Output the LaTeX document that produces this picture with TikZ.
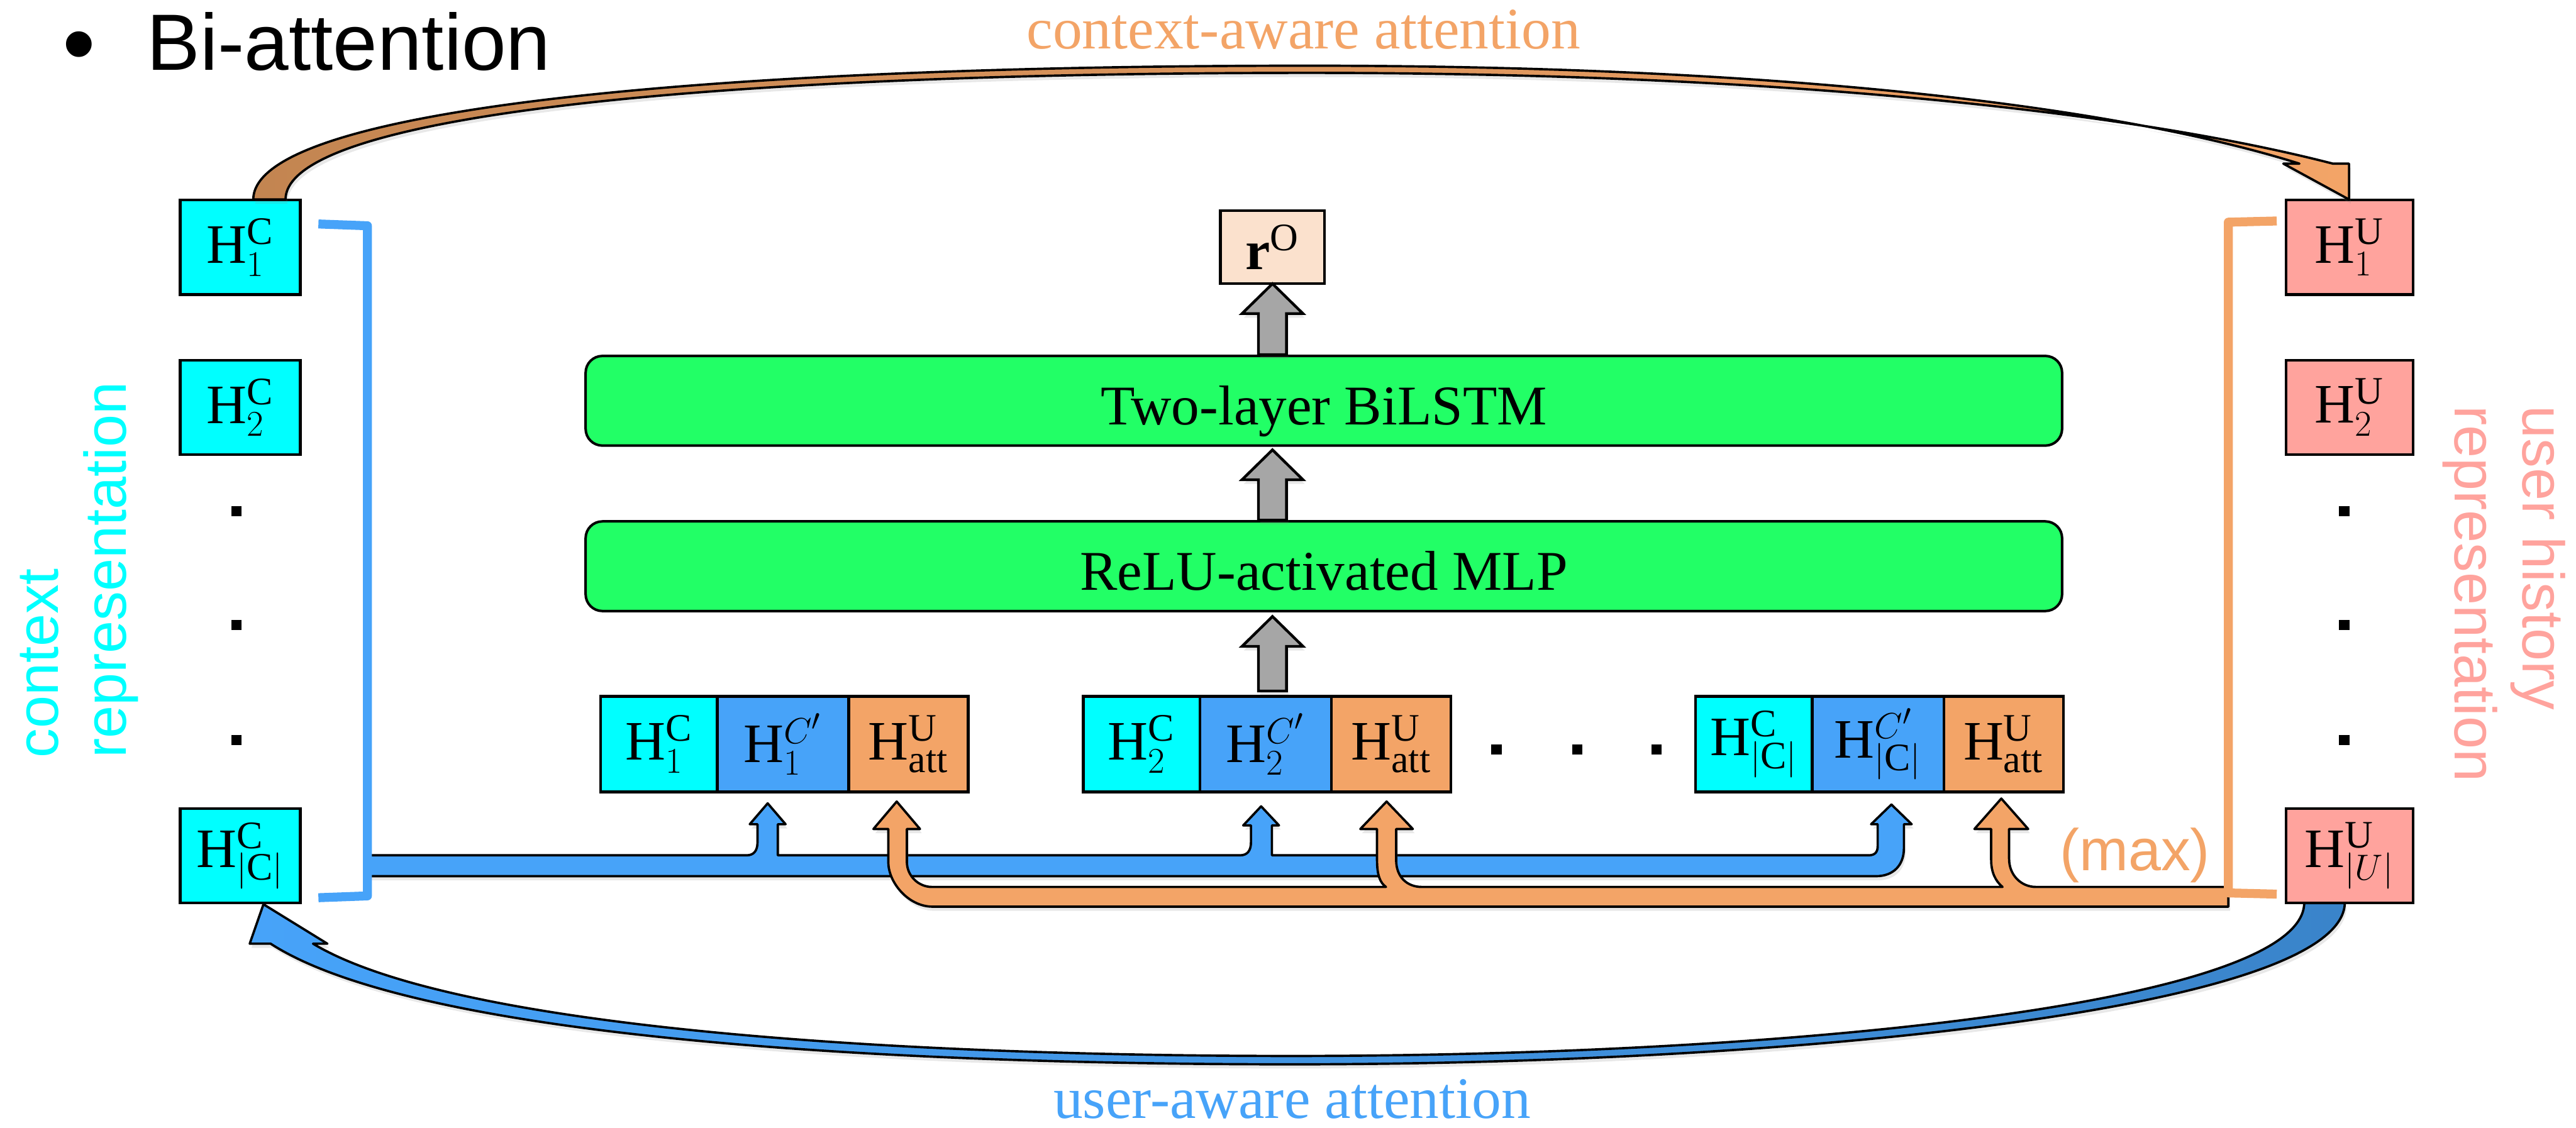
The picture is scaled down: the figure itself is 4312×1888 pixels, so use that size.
\documentclass[tikz,border=0pt]{standalone}
\usepackage{fontspec}
\setmainfont{Liberation Serif}
\newfontfamily\sansfont{Liberation Sans}
\usetikzlibrary{positioning,calc,shadows}

\definecolor{ctxcyan}{HTML}{00FFFF}
\definecolor{attblue}{HTML}{47A3F9}
\definecolor{attbluedk}{HTML}{3A84CA}
\definecolor{attorange}{HTML}{F3A467}
\definecolor{attbrown}{HTML}{C38551}
\definecolor{usrpink}{HTML}{FFA39D}
\definecolor{lyrgreen}{HTML}{22FF66}
\definecolor{outpeach}{HTML}{FBE1CD}
\definecolor{arrgray}{HTML}{A6A6A6}

\tikzset{
  hcell/.style={draw, line width=1.3pt, inner sep=0pt, outer sep=0pt, font=\fontsize{26.5}{30}\selectfont},
  ctx/.style={hcell, fill=ctxcyan, minimum width=2.01cm, minimum height=1.58cm},
  usr/.style={hcell, fill=usrpink, minimum width=2.12cm, minimum height=1.58cm},
  catcell/.style={hcell, minimum height=1.6cm},
  catc/.style={catcell, fill=ctxcyan, minimum width=1.95cm},
  catb/.style={catcell, fill=attblue, minimum width=2.2cm},
  cato/.style={catcell, fill=attorange, minimum width=2cm},
  lyrbox/.style={draw, line width=1.2pt, rounded corners=0.28cm, fill=lyrgreen,
    minimum width=24.7cm, minimum height=1.5cm, text height=23pt, text depth=0pt,
    font=\fontsize{26.7}{30}\selectfont},
  dotsq/.style={fill=black, inner sep=0pt, minimum size=0.17cm},
  softshadow/.style={drop shadow={opacity=0.18, shadow xshift=0.03cm, shadow yshift=-0.07cm}},
  ribbon/.style={draw=black, line width=1.1pt, line join=round, softshadow},
  fatarrow/.style={draw=black, line width=1.3pt, fill=arrgray, line join=miter, softshadow},
  brkt/.style={line width=0.15cm, line join=round},
  sidelabel/.style={inner sep=0pt, align=left, font=\sansfont\fontsize{28}{32.4}\selectfont},
}

% block arrow pointing up, from foot to tip
\newcommand{\fatup}[2]{%
  \draw[fatarrow] let \p1=(#1), \p2=(#2) in
    (\x2-0.235cm,\y1) -- (\x2-0.235cm,\y2-0.5cm) -- (\x2-0.51cm,\y2-0.5cm) -- (\x2,\y2)
    -- (\x2+0.51cm,\y2-0.5cm) -- (\x2+0.235cm,\y2-0.5cm) -- (\x2+0.235cm,\y1) -- cycle;}

\begin{document}
\begin{tikzpicture}[x=0.01cm, y=-0.01cm]
\useasboundingbox (0,0) rectangle (4312,1888);

% title
\node[font=\sansfont\fontsize{45}{48}\selectfont, anchor=base, inner sep=0pt] (bullet) at (132,127) {•};
\node[font=\sansfont\fontsize{38}{40}\selectfont, anchor=base west, inner sep=0pt] (title) at (245,117) {Bi-attention};

% context column
\node[ctx] (c1) at (402,414) {$\mathrm{H}^{\mathrm{C}}_{1}$};
\node[ctx] (c2) at (402,682) {$\mathrm{H}^{\mathrm{C}}_{2}$};
\node[ctx] (cn) at (402,1433) {$\mathrm{H}^{\mathrm{C}}_{|\mathrm{C}|}$};
\foreach \y in {856,1046,1239}
  \node[dotsq] at (396,\y) {};

% user history column
\node[usr] (u1) at (3933,414) {$\mathrm{H}^{\mathrm{U}}_{1}$};
\node[usr] (u2) at (3933,682) {$\mathrm{H}^{\mathrm{U}}_{2}$};
\node[usr] (un) at (3933,1433) {$\mathrm{H}^{\mathrm{U}}_{|U|}$};
\foreach \y in {856,1046,1239}
  \node[dotsq] at (3924,\y) {};

\node[sidelabel, text=ctxcyan, rotate=90, anchor=north west] (ctxlab) at (33,1270) {context\\representation};
\node[sidelabel, text=usrpink, rotate=-90, anchor=north west] (usrlab) at (4295,679) {user history\\representation};

% middle stack
\node[hcell, fill=outpeach, minimum width=1.74cm, minimum height=1.22cm] (rO) at (2130,414) {$\mathbf{r}^{\mathrm{O}}$};
\node[lyrbox] (lstm) at (2216,671) {Two-layer BiLSTM};
\node[lyrbox] (mlp) at (2216,948) {ReLU-activated MLP};

% concatenated rows
\node[catc] (hc1) at (1103,1246) {$\mathrm{H}^{\mathrm{C}}_{1}$};
\node[catb, right=0pt of hc1] (hcp1) {$\mathrm{H}^{C'}_{1}$};
\node[cato, right=0pt of hcp1] (ha1) {$\mathrm{H}^{\mathrm{U}}_{\mathrm{att}}$};

\node[catc] (hc2) at (1911,1246) {$\mathrm{H}^{\mathrm{C}}_{2}$};
\node[catb, right=0pt of hc2] (hcp2) {$\mathrm{H}^{C'}_{2}$};
\node[cato, right=0pt of hcp2] (ha2) {$\mathrm{H}^{\mathrm{U}}_{\mathrm{att}}$};

\node[catc] (hcn) at (2936,1246) {$\mathrm{H}^{\mathrm{C}}_{|\mathrm{C}|}$};
\node[catb, right=0pt of hcn] (hcpn) {$\mathrm{H}^{C'}_{|\mathrm{C}|}$};
\node[cato, right=0pt of hcpn] (han) {$\mathrm{H}^{\mathrm{U}}_{\mathrm{att}}$};

\foreach \x in {2505,2640,2773}
  \node[dotsq] at (\x,1255) {};

% gray arrows
\fatup{rO |- lstm.north}{rO.south}
\fatup{rO |- mlp.north}{$(rO |- lstm.south)+(0,5)$}
\fatup{$(rO |- hc2.north)+(0,-9)$}{$(rO |- mlp.south)+(0,7)$}

% context-aware attention
\filldraw[ribbon, left color=attbrown, right color=attorange]
  (424,334) .. controls (424,180) and (1200,110) .. (2190,110)
  .. controls (3000,110) and (3550,180) .. (3849,274)
  -- (3822,274) -- (3932,334) -- (3932,274) -- (3905,274)
  .. controls (3580,190) and (3000,122) .. (2190,122)
  .. controls (1210,122) and (478,190) .. (478,334) -- cycle;
\node[font=\fontsize{28}{30}\selectfont, text=attorange, anchor=base, inner sep=0pt] (ctxatt) at (2182,82) {context-aware attention};

% user-aware attention
\filldraw[ribbon, left color=attblue, right color=attbluedk]
  (3925,1512) .. controls (3920,1690) and (3000,1782) .. (2163,1782)
  .. controls (1500,1782) and (700,1740) .. (453,1580)
  -- (418,1580) -- (441,1514) -- (548,1580) -- (524,1580)
  .. controls (760,1722) and (1500,1768) .. (2163,1768)
  .. controls (3000,1768) and (3855,1680) .. (3857,1512) -- cycle;
\node[font=\fontsize{28}{30}\selectfont, text=attblue, anchor=base, inner sep=0pt] (usratt) at (2163,1872) {user-aware attention};

% context flow into the rows
\filldraw[ribbon, fill=attblue]
  (612,1432) -- (1250,1432) .. controls (1262,1432) and (1268,1424) .. (1268,1410)
  -- (1268,1380) -- (1255,1380) -- (1285,1345) -- (1315,1380) -- (1302,1380)
  -- (1302,1432) -- (2076,1432) .. controls (2088,1432) and (2094,1424) .. (2094,1410)
  -- (2094,1382) -- (2081,1382) -- (2111,1350) -- (2141,1382) -- (2129,1382)
  -- (2129,1432) -- (3128,1432) .. controls (3138,1432) and (3143,1427) .. (3143,1417)
  -- (3143,1380) -- (3132,1380) -- (3166,1347) -- (3200,1380) -- (3187,1380)
  -- (3187,1420) .. controls (3187,1448) and (3170,1467) .. (3140,1467)
  -- (612,1467) -- cycle;
\draw[brkt, attblue] (533,375) -- (615,378) -- (615,1500) -- (533,1503);

% user history flow into the rows
\filldraw[ribbon, fill=attorange]
  (3730,1518) -- (1561,1518) .. controls (1520,1518) and (1487,1477) .. (1487,1444)
  -- (1487,1388) -- (1462,1388) -- (1501,1342) -- (1540,1388) -- (1518,1388)
  -- (1518,1443) .. controls (1518,1466) and (1537,1485) .. (1560,1485)
  -- (2320,1485) .. controls (2310,1478) and (2305,1465) .. (2305,1440)
  -- (2305,1388) -- (2277,1388) -- (2321,1342) -- (2365,1388) -- (2337,1388)
  -- (2337,1440) .. controls (2337,1468) and (2355,1485) .. (2380,1485)
  -- (3352,1485) .. controls (3340,1475) and (3333,1460) .. (3333,1440)
  -- (3333,1388) -- (3305,1388) -- (3350,1337) -- (3395,1388) -- (3363,1388)
  -- (3363,1438) .. controls (3363,1465) and (3383,1485) .. (3408,1485)
  -- (3730,1485) -- cycle;
\draw[brkt, attorange] (3811,370) -- (3730,372) -- (3730,1495) -- (3811,1497);
\node[font=\sansfont\fontsize{28}{30}\selectfont, text=attorange, anchor=base east, inner sep=0pt] (maxlab) at (3700,1457) {(max)};

\end{tikzpicture}
\end{document}
